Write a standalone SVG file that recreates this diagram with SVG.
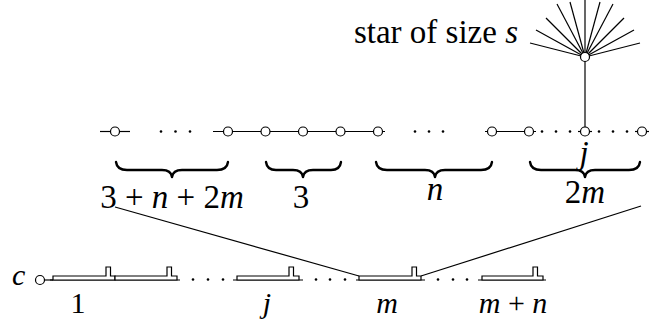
<svg xmlns="http://www.w3.org/2000/svg" width="650" height="329" viewBox="0 0 650 329">
<rect width="650" height="329" fill="#fff"/>

<g id="connectors" stroke="#000" stroke-width="1.2" fill="none">
<line x1="100" y1="131.5" x2="130" y2="131.5"/>
<line x1="213" y1="131.5" x2="385" y2="131.5"/>
<line x1="485" y1="131.5" x2="536" y2="131.5"/>
<line x1="578" y1="131.5" x2="592" y2="131.5"/>
<line x1="635" y1="131.5" x2="649" y2="131.5"/>
<line x1="585" y1="57" x2="585" y2="131.5"/>
<line x1="585" y1="57" x2="585" y2="0"/>
<line x1="585" y1="57" x2="530" y2="43"/>
<line x1="585" y1="57" x2="536" y2="30"/>
<line x1="585" y1="57" x2="546" y2="18"/>
<line x1="585" y1="57" x2="557" y2="4"/>
<line x1="585" y1="57" x2="570" y2="2"/>
<line x1="585" y1="57" x2="600" y2="2"/>
<line x1="585" y1="57" x2="613" y2="4"/>
<line x1="585" y1="57" x2="624" y2="18"/>
<line x1="585" y1="57" x2="634" y2="30"/>
<line x1="585" y1="57" x2="640" y2="43"/>
<line x1="115" y1="207" x2="359" y2="276"/>
<line x1="641" y1="206" x2="421" y2="276"/>
<line x1="44" y1="280" x2="53" y2="280"/>
</g>

<g id="dots" fill="#000">
<circle cx="161" cy="131.5" r="1.3"/><circle cx="175.5" cy="131.5" r="1.3"/><circle cx="190" cy="131.5" r="1.3"/>
<circle cx="415" cy="131.5" r="1.3"/><circle cx="429" cy="131.5" r="1.3"/><circle cx="443" cy="131.5" r="1.3"/>
<circle cx="542" cy="131.5" r="1.3"/><circle cx="556" cy="131.5" r="1.3"/><circle cx="570" cy="131.5" r="1.3"/>
<circle cx="599" cy="131.5" r="1.3"/><circle cx="613" cy="131.5" r="1.3"/><circle cx="627" cy="131.5" r="1.3"/>
<circle cx="193" cy="279.5" r="1.3"/><circle cx="208" cy="279.5" r="1.3"/><circle cx="223" cy="279.5" r="1.3"/>
<circle cx="316" cy="279.5" r="1.3"/><circle cx="330" cy="279.5" r="1.3"/><circle cx="345" cy="279.5" r="1.3"/>
<circle cx="438" cy="279.5" r="1.3"/><circle cx="453" cy="279.5" r="1.3"/><circle cx="467" cy="279.5" r="1.3"/>
</g>

<g id="path-nodes" fill="#fff" stroke="#000" stroke-width="1.2">
<circle id="v1" cx="115" cy="131.5" r="4.5"/>
<circle id="v2" cx="228" cy="131.5" r="4.5"/>
<circle id="v3" cx="265.5" cy="131.5" r="4.5"/>
<circle id="v4" cx="303" cy="131.5" r="4.5"/>
<circle id="v5" cx="340.5" cy="131.5" r="4.5"/>
<circle id="v6" cx="378" cy="131.5" r="4.5"/>
<circle id="v7" cx="492" cy="131.5" r="4.5"/>
<circle id="v8" cx="529" cy="131.5" r="4.5"/>
<circle id="vj" cx="585" cy="131.5" r="4.5"/>
<circle id="v10" cx="642" cy="131.5" r="4.5"/>
</g>

<g id="star-center"><circle cx="585" cy="57" r="4.5" fill="#fff" stroke="#000" stroke-width="1.2"/></g>

<g id="braces" stroke="#000" stroke-width="2.4" fill="none" stroke-linecap="round" stroke-linejoin="round">
<path d="M116,162 Q117,170 127,170 L162,170 Q171,170 172,177 Q173,170 182,170 L217,170 Q227,170 228,162"/>
<path d="M266,162 Q267,170 276,170 L293,170 Q302,170 303,177 Q304,170 313,170 L331,170 Q340,170 341,162"/>
<path d="M376,162 Q377,170 387,170 L425,170 Q434,170 435,177 Q436,170 445,170 L481,170 Q491,170 492,162"/>
<path d="M530,162 Q531,170 541,170 L575,170 Q584,170 585,177 Q586,170 595,170 L629,170 Q639,170 640,162"/>
</g>

<g id="c-node"><circle cx="40" cy="280" r="4.5" fill="#fff" stroke="#000" stroke-width="1.2"/></g>

<g id="gadgets" fill="#fff" stroke="#000" stroke-width="1.2">
<line x1="50" y1="280" x2="180" y2="280"/>
<path id="gadget-1" d="M53,280 V276 H106 V267 H110.5 V276 H115 V280 Z"/>
<path id="gadget-2" d="M115,280 V276 H167 V267 H171.5 V276 H177 V280 Z"/>
<line x1="233" y1="280" x2="303" y2="280"/>
<path id="gadget-j" d="M237,280 V276 H289 V267 H293.5 V276 H299 V280 Z"/>
<line x1="356" y1="280" x2="425" y2="280"/>
<path id="gadget-m" d="M359,280 V276 H412 V267 H416.5 V276 H421 V280 Z"/>
<line x1="478" y1="280" x2="546" y2="280"/>
<path id="gadget-mn" d="M482,280 V276 H533 V267 H537.5 V276 H543 V280 Z"/>
</g>

<text x="518" y="43" font-size="33" font-family="Liberation Serif, Times New Roman, DejaVu Serif, serif" text-anchor="end">star of size <tspan font-style="italic">s</tspan></text>
<text x="584" y="164" font-size="33" font-family="Liberation Serif, Times New Roman, DejaVu Serif, serif" font-style="italic" text-anchor="middle">j</text>
<text x="172" y="208" font-size="33" font-family="Liberation Serif, Times New Roman, DejaVu Serif, serif" text-anchor="middle">3 + <tspan font-style="italic">n</tspan> + 2<tspan font-style="italic">m</tspan></text>
<text x="301" y="208" font-size="33" font-family="Liberation Serif, Times New Roman, DejaVu Serif, serif" text-anchor="middle">3</text>
<text x="435" y="200" font-size="33" font-family="Liberation Serif, Times New Roman, DejaVu Serif, serif" font-style="italic" text-anchor="middle">n</text>
<text x="585" y="203" font-size="33" font-family="Liberation Serif, Times New Roman, DejaVu Serif, serif" text-anchor="middle">2<tspan font-style="italic">m</tspan></text>
<text x="12" y="285" font-size="30" font-family="Liberation Serif, Times New Roman, DejaVu Serif, serif" font-style="italic">c</text>
<text x="78" y="313" font-size="30" font-family="Liberation Serif, Times New Roman, DejaVu Serif, serif" text-anchor="middle">1</text>
<text x="267" y="313" font-size="30" font-family="Liberation Serif, Times New Roman, DejaVu Serif, serif" font-style="italic" text-anchor="middle">j</text>
<text x="387" y="313" font-size="30" font-family="Liberation Serif, Times New Roman, DejaVu Serif, serif" font-style="italic" text-anchor="middle">m</text>
<text x="513" y="313" font-size="30" font-family="Liberation Serif, Times New Roman, DejaVu Serif, serif" text-anchor="middle"><tspan font-style="italic">m</tspan> + <tspan font-style="italic">n</tspan></text>
</svg>
